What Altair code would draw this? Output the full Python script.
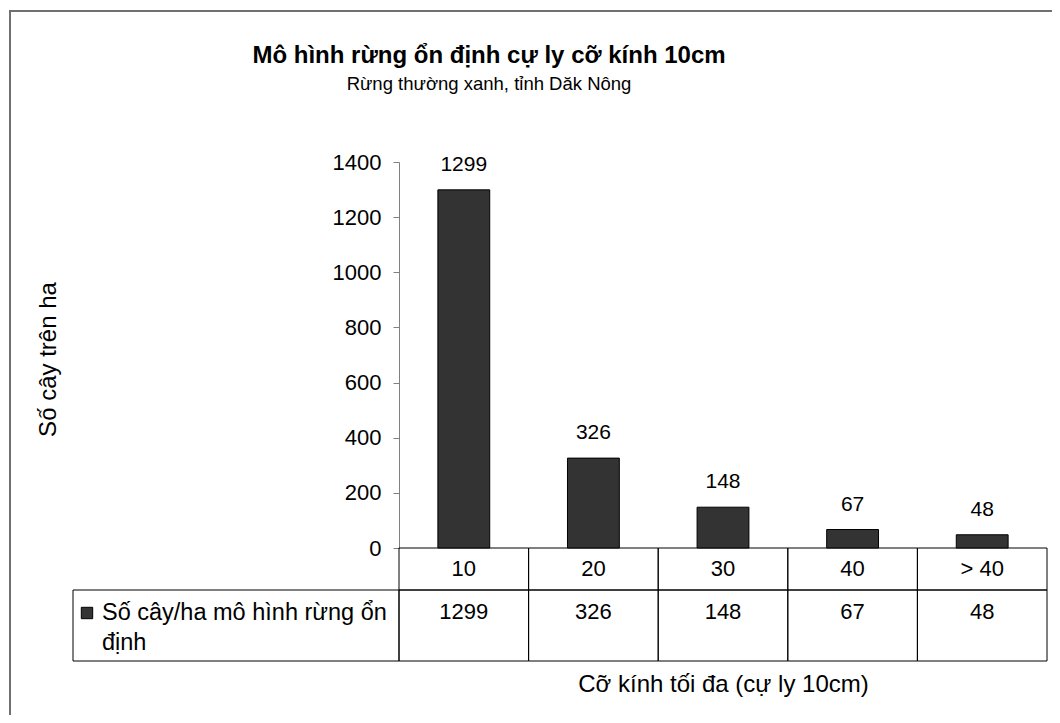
import altair as alt
import pandas as pd

# ---- data -------------------------------------------------------------
categories = ["10", "20", "30", "40", "> 40"]
values = [1299, 326, 148, 67, 48]
series_name = "Số cây/ha mô hình rừng ổn\nđịnh"
title_text = "Mô hình rừng ổn định cự ly cỡ kính 10cm"
subtitle_text = "Rừng thường xanh, tỉnh Dăk Nông"
y_title = "Số cây trên ha"
x_title = "Cỡ kính tối đa (cự ly 10cm)"
y_ticks = [0, 200, 400, 600, 800, 1000, 1200, 1400]

# ---- layout constants (pixels, plot-area coordinates) -----------------
FONT = "Liberation Sans"
W, H = 648, 386
ROW1_TOP, ROW2_TOP, TABLE_BOTTOM = 386, 428, 499
LEGEND_LEFT = -326

df = pd.DataFrame({"cat": categories, "val": values})
one = alt.Data(values=[{"name": series_name}])

x_enc = alt.X(
    "cat:N",
    sort=categories,
    scale=alt.Scale(paddingInner=0, paddingOuter=0),
    axis=alt.Axis(
        labels=False, ticks=False, domain=False, title=x_title,
        titleFont=FONT, titleFontSize=24, titleFontWeight="normal",
        titleColor="black", titleY=136, titleBaseline="middle",
    ),
)
y_enc = alt.Y(
    "val:Q",
    scale=alt.Scale(domain=[0, 1400], nice=False, zero=True),
    axis=alt.Axis(
        values=y_ticks, format="d", grid=False, tickSize=6, labelPadding=12,
        labelFont=FONT, labelFontSize=22, labelColor="black",
        domainColor="#808080", tickColor="#808080",
        title=y_title, titleFont=FONT, titleFontSize=24,
        titleFontWeight="normal", titleColor="black",
        titleAngle=-90, titleX=-351, titleY=197,
        titleAlign="center", titleBaseline="middle",
    ),
)

base = alt.Chart(df)

bars = base.mark_bar(
    width=alt.RelativeBandSize(band=0.4), color="#333333",
    stroke="black", strokeWidth=1,
).encode(x=x_enc, y=y_enc)

bar_labels = base.mark_text(
    font=FONT, fontSize=21, color="black", baseline="alphabetic", dy=-19,
).encode(x="cat:N", y="val:Q", text="val:Q")

header_cells = base.mark_rect(
    fillOpacity=0, stroke="black", strokeWidth=1,
).encode(x="cat:N", y=alt.value(ROW1_TOP), y2=alt.value(ROW2_TOP))

value_cells = base.mark_rect(
    fillOpacity=0, stroke="black", strokeWidth=1,
).encode(x="cat:N", y=alt.value(ROW2_TOP), y2=alt.value(TABLE_BOTTOM))

header_text = base.mark_text(
    font=FONT, fontSize=22, color="black", baseline="middle",
).encode(x="cat:N", y=alt.value(407), text="cat:N")

value_text = base.mark_text(
    font=FONT, fontSize=22, color="black", baseline="middle",
).encode(x="cat:N", y=alt.value(450), text="val:Q")

legend_cell = alt.Chart(one).mark_rect(
    fillOpacity=0, stroke="black", strokeWidth=1,
).encode(x=alt.value(LEGEND_LEFT), x2=alt.value(0),
         y=alt.value(ROW2_TOP), y2=alt.value(TABLE_BOTTOM))

legend_square = alt.Chart(one).mark_point(
    shape="square", filled=True, size=130, color="#333333",
    stroke="black", strokeWidth=1, opacity=1,
).encode(x=alt.value(-312), y=alt.value(451))

legend_text = alt.Chart(one).mark_text(
    font=FONT, fontSize=23.5, color="black", align="left", baseline="middle",
    lineBreak="\n", lineHeight=30,
).encode(x=alt.value(-297), y=alt.value(451), text="name:N")

frame_left = alt.Chart(one).mark_rule(color="#707070", strokeWidth=2).encode(
    x=alt.value(-389), y=alt.value(-151), y2=alt.value(560))
frame_top = alt.Chart(one).mark_rule(color="#707070", strokeWidth=2).encode(
    x=alt.value(-390), x2=alt.value(660), y=alt.value(-151))

chart = alt.layer(
    frame_left, frame_top,
    header_cells, value_cells, legend_cell,
    bars, bar_labels, header_text, value_text,
    legend_square, legend_text,
).properties(
    width=W, height=H,
    title=alt.TitleParams(
        text=title_text, subtitle=subtitle_text,
        anchor="middle", frame="group", dx=-234, offset=-83,
        font=FONT, fontSize=24, fontWeight="bold", color="black",
        subtitleFont=FONT, subtitleFontSize=18.5, subtitleColor="black",
        subtitlePadding=7,
    ),
    autosize=alt.AutoSizeParams(type="none"),
    padding={"left": 391, "top": 154, "right": 5, "bottom": 167},
).configure(background="white").configure_view(strokeOpacity=0, strokeWidth=0)

chart.save("out.html", embed_options={"renderer": "svg", "actions": False})
